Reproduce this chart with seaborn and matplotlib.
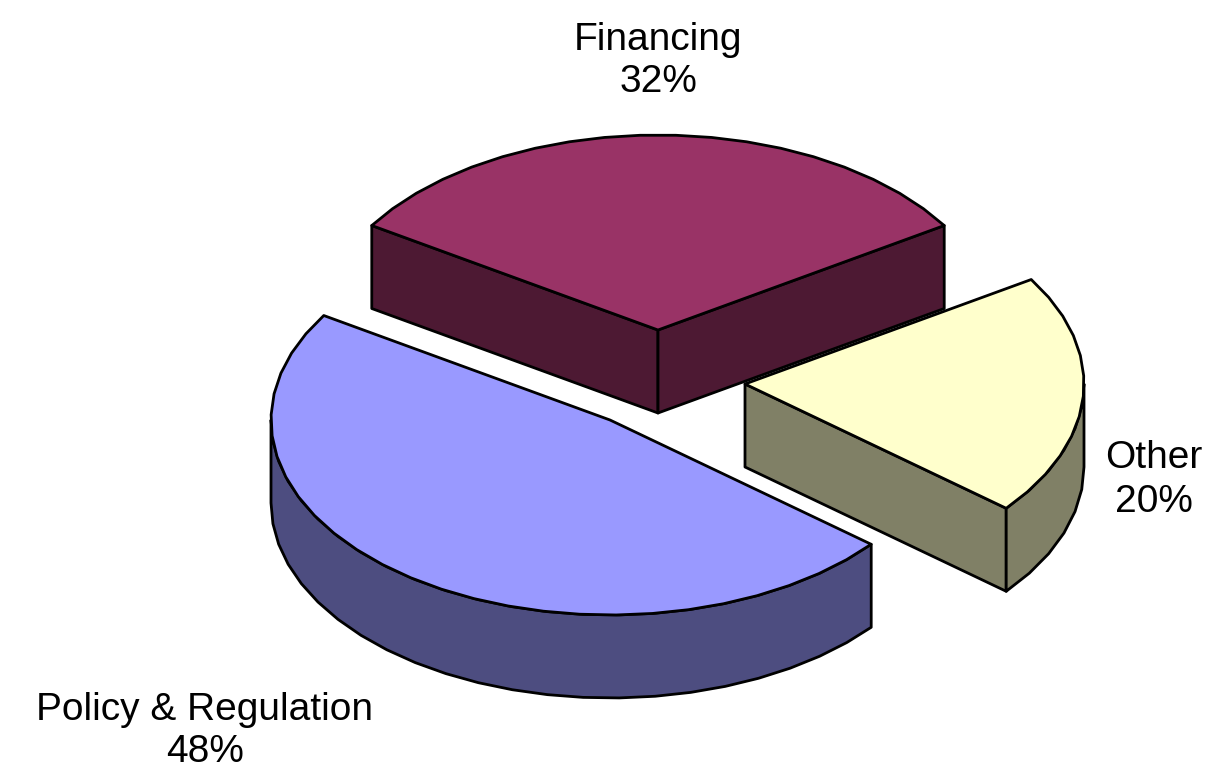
"""Exploded 3D pie of obstacle categories."""

import matplotlib.pyplot as plt
import numpy as np
import seaborn as sns

categories = ["Financing", "Other", "Policy & Regulation"]
shares = [32, 20, 48]
top_colors = ["#993366", "#FFFFCC", "#9999FF"]
side_colors = ["#4D1933", "#808066", "#4D4D80"]

# layout in pixels of the 1217x783 picture
apexes = [(658, 330), (745, 384), (610, 420)]
label_pos = [(658, 61), (1154, 480), (205, 731)]
RADIUS_X = 339
RADIUS_Y = 195
DEPTH = 83
START_ANGLE = -57.6
STEP = 6.0


def rim(apex, start, end):
    steps = max(int(abs(end - start) / STEP), 1)
    angles = np.radians(np.linspace(start, end, steps + 1))
    return apex[0] + RADIUS_X * np.sin(angles), apex[1] - RADIUS_Y * np.cos(angles)


def draw_face(ax, xs, ys, color):
    ax.fill(xs, ys, facecolor=color, edgecolor="black", linewidth=2, joinstyle="round")


sns.set_theme(style="white")
plt.rcParams["font.family"] = ["Liberation Sans", "DejaVu Sans"]

fig, ax = plt.subplots(figsize=(12.17, 7.83), dpi=100)
fig.subplots_adjust(0, 0, 1, 1)
ax.set_xlim(0, 1217)
ax.set_ylim(783, 0)
ax.axis("off")

edges = START_ANGLE + np.cumsum([0] + [s * 3.6 for s in shares])
for i, cat in enumerate(categories):
    apex = apexes[i]
    start, end = edges[i], edges[i + 1]
    # visible radial walls
    for angle, visible in ((start, np.sin(np.radians(start)) < 0), (end, np.sin(np.radians(end)) > 0)):
        if visible:
            x, y = rim(apex, angle, angle)
            draw_face(
                ax,
                [apex[0], x[0], x[0], apex[0]],
                [apex[1], y[0], y[0] + DEPTH, apex[1] + DEPTH],
                side_colors[i],
            )
    # outer wall, front half of the rim only
    low, high = max(start, 90), min(end, 270)
    if low < high:
        x, y = rim(apex, low, high)
        draw_face(ax, np.r_[x, x[::-1]], np.r_[y, y[::-1] + DEPTH], side_colors[i])
    x, y = rim(apex, start, end)
    draw_face(ax, np.r_[apex[0], x], np.r_[apex[1], y], top_colors[i])
    ax.text(
        label_pos[i][0],
        label_pos[i][1],
        f"{cat}\n{shares[i]}%",
        ha="center",
        va="center",
        fontsize=28,
        linespacing=1.25,
        color="black",
    )

fig.savefig("out.png", dpi=100)
plt.close(fig)
